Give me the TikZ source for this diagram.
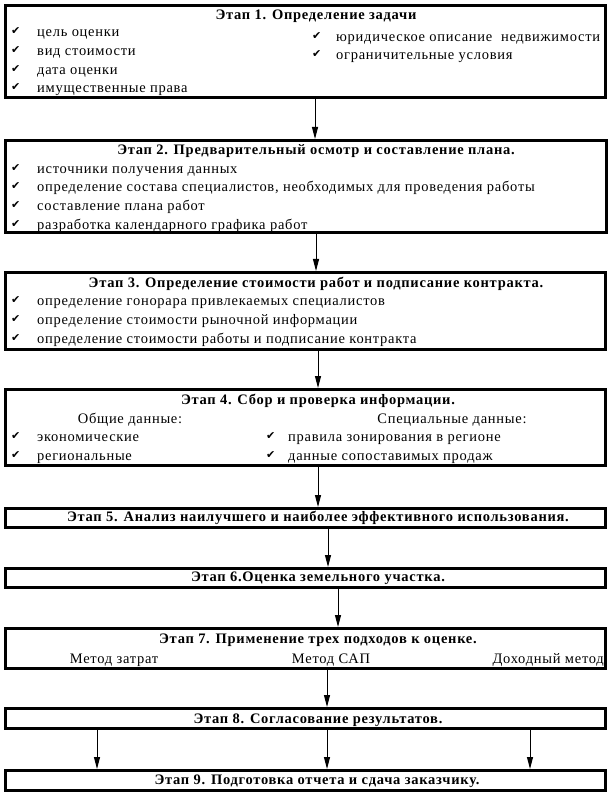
\documentclass[tikz,border=0pt]{standalone}
\usepackage{fontspec}
\setmainfont[LetterSpace=5]{Liberation Serif}
\newfontfamily\symfont{DejaVu Sans}
\usetikzlibrary{arrows.meta}
\newcommand{\chk}{{\symfont\fontsize{11}{11}\selectfont ✔}}
\begin{document}
\begin{tikzpicture}[x=1pt,y=-1pt,
  box/.style={draw, line width=3pt, inner sep=0pt},
  ttl/.style={font=\fontsize{14.5}{16}\selectfont\bfseries, inner sep=0pt, anchor=center, text height=10pt, text depth=3pt},
  itm/.style={font=\fontsize{14.5}{16}\selectfont, inner sep=0pt, anchor=west, text height=10pt, text depth=3pt},
  ctr/.style={itm, anchor=center},
  rgt/.style={itm, anchor=east},
  ck/.style={inner sep=0pt, anchor=west},
  arr/.style={line width=1pt, -{Triangle[length=12pt,width=6pt]}}]
\useasboundingbox (0,0) rectangle (611,799);
% boxes
\node[box, minimum width=600pt, minimum height=92pt] (b1) at (305.5,51.5) {};
\node[box, minimum width=601pt, minimum height=92pt] (b2) at (306,186.5) {};
\node[box, minimum width=600pt, minimum height=77pt] (b3) at (305.5,311) {};
\node[box, minimum width=600pt, minimum height=76pt] (b4) at (305.5,427.5) {};
\node[box, minimum width=600pt, minimum height=19pt] (b5) at (305.5,518) {};
\node[box, minimum width=600pt, minimum height=19pt] (b6) at (305.5,578) {};
\node[box, minimum width=600pt, minimum height=40pt] (b7) at (305.5,648.5) {};
\node[box, minimum width=600pt, minimum height=20pt] (b8) at (305.5,718.5) {};
\node[box, minimum width=600pt, minimum height=20pt] (b9) at (305.5,780.5) {};
% stage 1
\node[ttl] (t1) at (316,16) {Этап 1. Определение задачи};
\node[ck] (c11) at (11,31) {\chk}; \node[itm] (i11) at (37,33) {цель оценки};
\node[ck] (c12) at (11,50) {\chk}; \node[itm] (i12) at (37,52) {вид стоимости};
\node[ck] (c13) at (11,69) {\chk}; \node[itm] (i13) at (37,71) {дата оценки};
\node[ck] (c14) at (11,87) {\chk}; \node[itm] (i14) at (37,89) {имущественные права};
\node[ck] (c15) at (312,36) {\chk}; \node[itm] (i15) at (336,38) {юридическое описание\ \ недвижимости};
\node[ck] (c16) at (312,54) {\chk}; \node[itm] (i16) at (336,56) {ограничительные условия};
% stage 2
\node[ttl] (t2) at (316,151) {Этап 2. Предварительный осмотр и составление плана.};
\node[ck] (c21) at (11,168) {\chk}; \node[itm] (i21) at (37,170) {источники получения данных};
\node[ck] (c22) at (11,186) {\chk}; \node[itm] (i22) at (37,188) {определение состава специалистов, необходимых для проведения работы};
\node[ck] (c23) at (11,205) {\chk}; \node[itm] (i23) at (37,207) {составление плана работ};
\node[ck] (c24) at (11,224) {\chk}; \node[itm] (i24) at (37,226) {разработка календарного графика работ};
% stage 3
\node[ttl] (t3) at (316,284) {Этап 3. Определение стоимости работ и подписание контракта.};
\node[ck] (c31) at (11,300) {\chk}; \node[itm] (i31) at (37,302) {определение гонорара привлекаемых специалистов};
\node[ck] (c32) at (11,319) {\chk}; \node[itm] (i32) at (37,321) {определение стоимости рыночной информации};
\node[ck] (c33) at (11,338) {\chk}; \node[itm] (i33) at (37,340) {определение стоимости работы и подписание контракта};
% stage 4
\node[ttl] (t4) at (318,401) {Этап 4. Сбор и проверка информации.};
\node[ctr] (s41) at (130,420) {Общие данные:};
\node[ctr] (s42) at (452,420) {Специальные данные:};
\node[ck] (c41) at (11,436) {\chk}; \node[itm] (i41) at (37,438) {экономические};
\node[ck] (c42) at (11,455) {\chk}; \node[itm] (i42) at (37,457) {региональные};
\node[ck] (c43) at (266,436) {\chk}; \node[itm] (i43) at (288,438) {правила зонирования в регионе};
\node[ck] (c44) at (266,455) {\chk}; \node[itm] (i44) at (288,457) {данные сопоставимых продаж};
% stages 5-9
\node[ttl] (t5) at (318,518) {Этап 5. Анализ наилучшего и наиболее эффективного использования.};
\node[ttl] (t6) at (318,578) {Этап 6.Оценка земельного участка.};
\node[ttl] (t7) at (318,640) {Этап 7. Применение трех подходов к оценке.};
\node[ctr] (m1) at (114,660) {Метод затрат};
\node[ctr] (m2) at (331,660) {Метод САП};
\node[rgt] (m3) at (604,660) {Доходный метод};
\node[ttl] (t8) at (318,720) {Этап 8. Согласование результатов.};
\node[ttl] (t9) at (317,781) {Этап 9. Подготовка отчета и сдача заказчику.};
% arrows
\coordinate (a1) at (315,0);
\coordinate (a2) at (316,0);
\coordinate (a3) at (318,0);
\coordinate (a5) at (328,0);
\coordinate (a6) at (338,0);
\coordinate (a7) at (327,0);
\coordinate (a8) at (97,0);
\coordinate (a9) at (530,0);
\draw[arr] (b1.south -| a1) -- (b2.north -| a1);
\draw[arr] (b2.south -| a2) -- (b3.north -| a2);
\draw[arr] (b3.south -| a3) -- (b4.north -| a3);
\draw[arr] (b4.south -| a3) -- (b5.north -| a3);
\draw[arr] (b5.south -| a5) -- (b6.north -| a5);
\draw[arr] (b6.south -| a6) -- (b7.north -| a6);
\draw[arr] (b7.south -| a7) -- (b8.north -| a7);
\draw[arr] (b8.south -| a8) -- (b9.north -| a8);
\draw[arr] (b8.south -| a7) -- (b9.north -| a7);
\draw[arr] (b8.south -| a9) -- (b9.north -| a9);
\end{tikzpicture}
\end{document}
